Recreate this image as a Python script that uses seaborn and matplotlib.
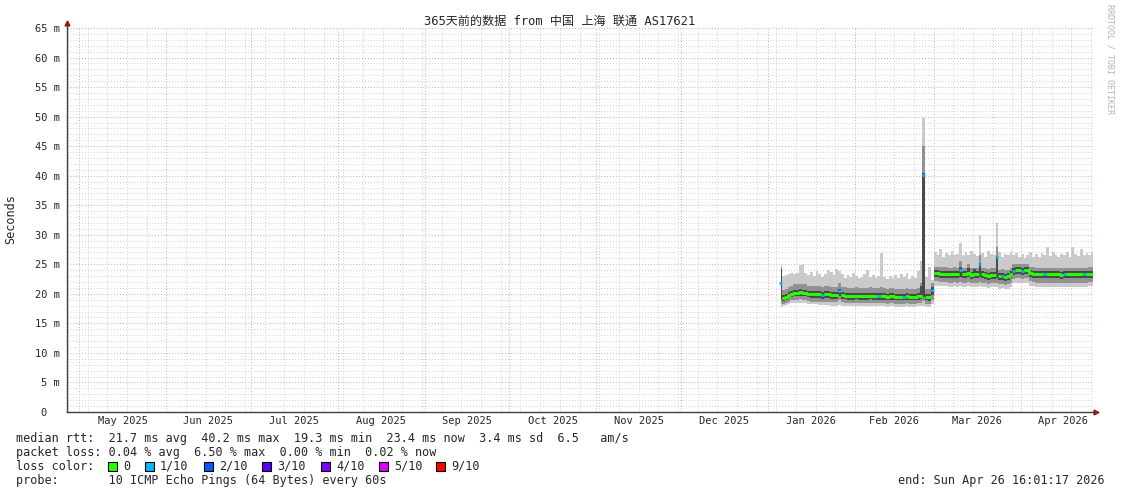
import pandas as pd
import matplotlib.pyplot as plt
import matplotlib.dates as mdates
from matplotlib.patches import Rectangle
from matplotlib.ticker import MultipleLocator, NullFormatter
import seaborn as sns

sns.set_style("white")
plt.rcParams["font.family"] = ["DejaVu Sans Mono", "Noto Sans CJK SC"]

title = "365天前的数据 from 中国 上海 联通 AS17621"
graph_start = pd.Timestamp("2025-04-26 16:01:17")
graph_end = pd.Timestamp("2026-04-26 16:01:17")
first_day = "2026-01-05"

# median rtt per day (ms)
median_rtt = [
    21.9, 19.3, 19.5, 19.8, 20.0, 20.2, 20.2, 20.3, 20.2, 20.2,
    20.0, 19.9, 19.9, 19.9, 19.9, 19.8, 19.9, 19.9, 19.8, 19.8,
    19.8, 20.4, 19.8, 19.7, 19.6, 19.6, 19.6, 19.7, 19.6, 19.6,
    19.6, 19.6, 19.7, 19.6, 19.6, 19.6, 19.6, 19.6, 19.5, 19.6,
    19.6, 19.5, 19.5, 19.5, 19.5, 19.6, 19.5, 19.5, 19.5, 19.6,
    19.7, 40.2, 19.5, 19.4, 20.6,
    23.5, 23.5, 23.4, 23.4, 23.4, 23.3, 23.3, 23.4, 23.3, 24.0,
    23.3, 23.3, 23.6, 23.2, 23.3, 23.3, 25.0, 23.3, 23.2, 23.1,
    23.2, 23.2, 26.2, 23.0, 23.1, 22.9, 23.0, 23.3, 23.9, 24.0,
    24.0, 23.9, 24.0, 24.0, 23.5, 23.4, 23.3, 23.3, 23.3, 23.3,
    23.3, 23.3, 23.3, 23.3, 23.3, 23.2, 23.3, 23.3, 23.3, 23.3,
    23.3, 23.3, 23.3, 23.3, 23.3, 23.4, 23.4,
]

# smoke: lowest / highest ping
ping_min = [
    17.8, 17.9, 18.1, 18.3, 18.4, 18.5, 18.5, 18.5, 18.5, 18.4,
    18.3, 18.2, 18.2, 18.2, 18.1, 18.1, 18.1, 18.1, 18.0, 18.0,
    18.0, 18.1, 18.0, 17.9, 17.9, 17.9, 17.9, 18.0, 17.9, 17.9,
    17.9, 17.9, 18.0, 17.9, 17.9, 17.9, 17.9, 17.9, 17.8, 17.9,
    17.9, 17.8, 17.8, 17.8, 17.8, 17.9, 17.8, 17.8, 17.8, 17.9,
    17.9, 18.0, 17.8, 17.7, 18.2,
    21.4, 21.4, 21.3, 21.3, 21.3, 21.2, 21.2, 21.3, 21.2, 21.3,
    21.2, 21.2, 21.3, 21.1, 21.2, 21.2, 21.3, 21.2, 21.1, 21.0,
    21.1, 21.1, 21.2, 20.9, 21.0, 20.8, 20.9, 21.2, 21.8, 21.9,
    21.9, 21.8, 21.9, 21.9, 21.4, 21.3, 21.2, 21.2, 21.2, 21.2,
    21.2, 21.2, 21.2, 21.2, 21.2, 21.1, 21.2, 21.2, 21.2, 21.2,
    21.2, 21.2, 21.2, 21.2, 21.2, 21.3, 21.3,
]
ping_max = [
    24.8, 23.0, 23.2, 23.4, 23.6, 23.3, 23.5, 24.9, 25.0, 23.6,
    23.2, 23.7, 23.0, 23.8, 23.4, 22.9, 23.3, 24.0, 23.7, 23.2,
    24.2, 23.8, 23.3, 22.7, 23.2, 22.8, 23.6, 23.1, 22.6, 22.9,
    23.4, 24.0, 22.8, 23.2, 22.7, 23.0, 26.9, 22.8, 22.5, 23.1,
    22.6, 23.2, 22.7, 23.4, 22.8, 23.6, 22.5, 23.0, 22.7, 23.8,
    25.6, 49.8, 22.8, 24.5, 22.4,
    27.0, 26.6, 27.6, 26.3, 26.9, 26.5, 27.2, 26.6, 26.8, 28.6,
    26.5, 27.1, 26.6, 27.3, 26.7, 26.4, 30.0, 26.9, 26.3, 27.2,
    26.7, 26.5, 32.0, 27.0, 26.2, 26.8, 26.5, 27.1, 26.6, 26.9,
    26.3, 26.7, 26.1, 26.6, 27.0, 26.3, 26.7, 26.2, 26.9, 26.5,
    28.0, 26.4, 27.0, 26.6, 26.2, 26.8, 26.5, 27.1, 26.3, 28.0,
    26.7, 26.4, 27.6, 26.5, 26.9, 26.6, 27.0,
]
# smoke: middle band
ping_lo2 = [
    18.4, 18.3, 18.5, 18.7, 18.9, 19.0, 19.0, 19.1, 19.0, 19.0,
    18.8, 18.7, 18.7, 18.7, 18.7, 18.6, 18.7, 18.7, 18.6, 18.6,
    18.6, 18.9, 18.6, 18.5, 18.4, 18.4, 18.4, 18.5, 18.4, 18.4,
    18.4, 18.4, 18.5, 18.4, 18.4, 18.4, 18.4, 18.4, 18.3, 18.4,
    18.4, 18.3, 18.3, 18.3, 18.3, 18.4, 18.3, 18.3, 18.3, 18.4,
    18.5, 18.8, 18.3, 18.2, 19.0,
    22.1, 22.1, 22.0, 22.0, 22.0, 21.9, 21.9, 22.0, 21.9, 22.0,
    21.9, 21.9, 22.0, 21.8, 21.9, 21.9, 22.0, 21.9, 21.8, 21.7,
    21.8, 21.8, 21.9, 21.6, 21.7, 21.5, 21.6, 21.9, 22.5, 22.6,
    22.6, 22.5, 22.6, 22.6, 22.1, 22.0, 21.9, 21.9, 21.9, 21.9,
    21.9, 21.9, 21.9, 21.9, 21.9, 21.8, 21.9, 21.9, 21.9, 21.9,
    21.9, 21.9, 21.9, 21.9, 21.9, 22.0, 22.0,
]
ping_hi2 = [
    24.5, 20.7, 20.9, 21.2, 21.4, 21.6, 21.6, 21.7, 21.6, 21.6,
    21.4, 21.3, 21.3, 21.3, 21.3, 21.2, 21.3, 21.3, 21.2, 21.2,
    21.2, 21.8, 21.2, 21.1, 21.0, 21.0, 21.0, 21.1, 21.0, 21.0,
    21.0, 21.0, 21.1, 21.0, 21.0, 21.0, 21.2, 21.0, 20.9, 21.0,
    21.0, 20.9, 20.9, 20.9, 20.9, 21.0, 20.9, 20.9, 20.9, 21.0,
    21.8, 45.0, 20.9, 20.8, 21.8,
    24.6, 24.6, 24.5, 24.5, 24.5, 24.4, 24.4, 24.5, 24.4, 25.6,
    24.4, 24.4, 25.0, 24.3, 24.4, 24.4, 26.5, 24.4, 24.3, 24.2,
    24.3, 24.3, 28.0, 24.1, 24.2, 24.0, 24.1, 24.4, 25.0, 25.1,
    25.1, 25.0, 25.1, 25.1, 24.6, 24.5, 24.4, 24.4, 24.4, 24.4,
    24.4, 24.4, 24.4, 24.4, 24.4, 24.3, 24.4, 24.4, 24.4, 24.4,
    24.4, 24.4, 24.4, 24.4, 24.4, 24.5, 24.5,
]
# smoke: inner band
ping_lo3 = [
    19.0, 18.8, 18.9, 19.2, 19.4, 19.6, 19.6, 19.7, 19.6, 19.6,
    19.4, 19.3, 19.3, 19.3, 19.3, 19.2, 19.3, 19.3, 19.2, 19.2,
    19.2, 19.7, 19.2, 19.1, 19.0, 19.0, 19.0, 19.1, 19.0, 19.0,
    19.0, 19.0, 19.1, 19.0, 19.0, 19.0, 19.0, 19.0, 18.9, 19.0,
    19.0, 18.9, 18.9, 18.9, 18.9, 19.0, 18.9, 18.9, 18.9, 19.0,
    19.1, 19.4, 18.9, 18.8, 19.8,
    22.8, 22.8, 22.7, 22.7, 22.7, 22.6, 22.6, 22.7, 22.6, 22.8,
    22.6, 22.6, 22.8, 22.5, 22.6, 22.6, 22.8, 22.6, 22.5, 22.4,
    22.5, 22.5, 22.7, 22.3, 22.4, 22.2, 22.3, 22.6, 23.2, 23.3,
    23.3, 23.2, 23.3, 23.3, 22.8, 22.7, 22.6, 22.6, 22.6, 22.6,
    22.6, 22.6, 22.6, 22.6, 22.6, 22.5, 22.6, 22.6, 22.6, 22.6,
    22.6, 22.6, 22.6, 22.6, 22.6, 22.7, 22.7,
]
ping_hi3 = [
    24.2, 19.8, 20.0, 20.3, 20.5, 20.7, 20.7, 20.8, 20.7, 20.7,
    20.5, 20.4, 20.4, 20.4, 20.4, 20.3, 20.4, 20.4, 20.3, 20.3,
    20.3, 20.9, 20.3, 20.2, 20.1, 20.1, 20.1, 20.2, 20.1, 20.1,
    20.1, 20.1, 20.2, 20.1, 20.1, 20.1, 20.1, 20.1, 20.0, 20.1,
    20.1, 20.0, 20.0, 20.0, 20.0, 20.1, 20.0, 20.0, 20.0, 20.1,
    21.3, 40.5, 20.0, 19.9, 21.1,
    24.0, 24.0, 23.9, 23.9, 23.9, 23.8, 23.8, 23.9, 23.8, 24.5,
    23.8, 23.8, 24.3, 23.7, 24.2, 23.8, 25.3, 23.8, 23.7, 23.6,
    23.7, 23.7, 26.4, 23.5, 23.6, 23.4, 23.5, 23.8, 24.4, 24.5,
    24.5, 24.4, 24.5, 24.5, 24.0, 23.9, 23.8, 23.8, 23.8, 23.8,
    23.8, 23.8, 23.8, 23.8, 23.8, 23.7, 23.8, 23.8, 23.8, 23.8,
    23.8, 23.8, 23.8, 23.8, 23.8, 23.9, 23.9,
]

# days (index from first_day) with 1/10 packet loss
loss_1_10_days = [0, 15, 21, 35, 44, 51, 54, 64, 71, 77, 79, 83, 86, 94, 101, 108]

month_labels = ["May 2025", "Jun 2025", "Jul 2025", "Aug 2025", "Sep 2025", "Oct 2025",
                "Nov 2025", "Dec 2025", "Jan 2026", "Feb 2026", "Mar 2026", "Apr 2026"]
y_tick_labels = ["0  ", "5 m", "10 m", "15 m", "20 m", "25 m", "30 m",
                 "35 m", "40 m", "45 m", "50 m", "55 m", "60 m", "65 m"]
loss_labels = ["0", "1/10", "2/10", "3/10", "4/10", "5/10", "9/10"]
loss_colors = ["#26ff00", "#00b8ff", "#0059ff", "#5e00ff", "#7e00ff", "#dd00ff", "#ff0000"]
median_line = "median rtt:  21.7 ms avg  40.2 ms max  19.3 ms min  23.4 ms now  3.4 ms sd  6.5   am/s"
loss_line = "packet loss: 0.04 % avg  6.50 % max  0.00 % min  0.02 % now"
probe_line = "probe:       10 ICMP Echo Pings (64 Bytes) every 60s"
end_line = "end: Sun Apr 26 16:01:17 2026"

W, H = 1121, 494
fig = plt.figure(figsize=(W / 100, H / 100), dpi=100)
fig.patch.set_facecolor("white")
ax = fig.add_axes([67 / W, (H - 412) / H, 1026 / W, 384 / H])

dates = pd.date_range(first_day, periods=len(median_rtt), freq="D") + pd.Timedelta(hours=12)

# smoke
ax.fill_between(dates, ping_min, ping_max, step="mid", color="#cacaca", lw=0, zorder=2)
ax.fill_between(dates, ping_lo2, ping_hi2, step="mid", color="#929292", lw=0, zorder=3)
ax.fill_between(dates, ping_lo3, ping_hi3, step="mid", color="#4a4a4a", lw=0, zorder=4)

# median line, coloured by loss
df = pd.DataFrame({"date": dates, "median": median_rtt})
df["lossy"] = [i in loss_1_10_days for i in range(len(df))]
df["run"] = df["lossy"].cumsum()
green = df[~df["lossy"]]
sns.lineplot(data=green, x="date", y="median", units="run", estimator=None,
             color=loss_colors[0], lw=2, drawstyle="steps-mid", legend=False, ax=ax, zorder=5)
half = pd.Timedelta(hours=12)
ax.hlines(df["median"], df["date"] - half, df["date"] + half,
          colors=[loss_colors[1] if b else loss_colors[0] for b in df["lossy"]],
          lw=2, zorder=6)

ax.set_xlim(graph_start, graph_end)
ax.set_ylim(0, 65)

# grid
ax.xaxis.set_major_locator(mdates.MonthLocator())
ax.xaxis.set_minor_locator(mdates.WeekdayLocator(byweekday=mdates.SU))
ax.xaxis.set_major_formatter(NullFormatter())
ax.set_yticks(range(0, 66, 5))
ax.set_yticklabels(y_tick_labels)
ax.yaxis.set_minor_locator(MultipleLocator(1))
ax.grid(which="minor", color="#d0d0d0", linestyle=(0, (1, 2)), lw=0.7)
ax.grid(which="major", color="#eca0a0", linestyle=(0, (1, 2)), lw=0.7)
ax.set_axisbelow(True)
ax.tick_params(axis="both", which="minor", length=0)
ax.tick_params(axis="both", which="major", length=2, width=0.8, color="#404040",
               labelsize=7.5, pad=3)
ax.tick_params(axis="x", which="major", direction="inout", length=4)

for s in ["top", "right"]:
    ax.spines[s].set_visible(False)
for s in ["left", "bottom"]:
    ax.spines[s].set_color("#404040")
    ax.spines[s].set_linewidth(1)

# axis arrows
ax.plot([1.0, 1.003], [0, 0], transform=ax.transAxes, color="#404040", lw=1, clip_on=False)
ax.plot([0, 0], [1.0, 1.012], transform=ax.transAxes, color="#404040", lw=1, clip_on=False)
ax.plot([1.0025], [0], marker=">", ms=3.5, color="#8b1c1c", transform=ax.transAxes, clip_on=False)
ax.plot([0], [1.013], marker="^", ms=3.5, color="#8b1c1c", transform=ax.transAxes, clip_on=False)

# month labels centred on each month
months = pd.date_range("2025-05-01", "2026-05-01", freq="MS")
mids = months[:-1] + (months[1:] - months[:-1]) / 2
for m, lab in zip(mids, month_labels):
    ax.text(m, -0.0234, lab, transform=ax.get_xaxis_transform(), ha="center", va="center",
            fontsize=7.5)

ax.set_xlabel("")
ax.set_ylabel("")

fig.text(560 / W, 1 - 21 / H, title, ha="center", va="center", fontsize=8.7)
fig.text(11 / W, 1 - 219 / H, "Seconds", rotation=90, ha="center", va="center", fontsize=8.5)
fig.text(1110 / W, 1 - 59 / H, "RRDTOOL / TOBI OETIKER", rotation=270, ha="center",
         va="center", fontsize=6, color="#b4b4b4")

fig.text(16 / W, 1 - 438 / H, median_line, ha="left", va="center", fontsize=8.5)
fig.text(16 / W, 1 - 452 / H, loss_line, ha="left", va="center", fontsize=8.5)
fig.text(16 / W, 1 - 466 / H, "loss color:", ha="left", va="center", fontsize=8.5)
box_x = [108, 145, 204, 262, 321, 379, 436]
for bx, lab, col in zip(box_x, loss_labels, loss_colors):
    fig.add_artist(Rectangle((bx / W, 1 - 470.5 / H), 9 / W, 9 / H, transform=fig.transFigure,
                             facecolor=col, edgecolor="black", lw=0.8))
    fig.text((bx + 15) / W, 1 - 466 / H, lab, ha="left", va="center", fontsize=8.5)
fig.text(16 / W, 1 - 480 / H, probe_line, ha="left", va="center", fontsize=8.5)
fig.text(1105 / W, 1 - 480 / H, end_line, ha="right", va="center", fontsize=8.5)

plt.savefig("out.png", dpi=100)
